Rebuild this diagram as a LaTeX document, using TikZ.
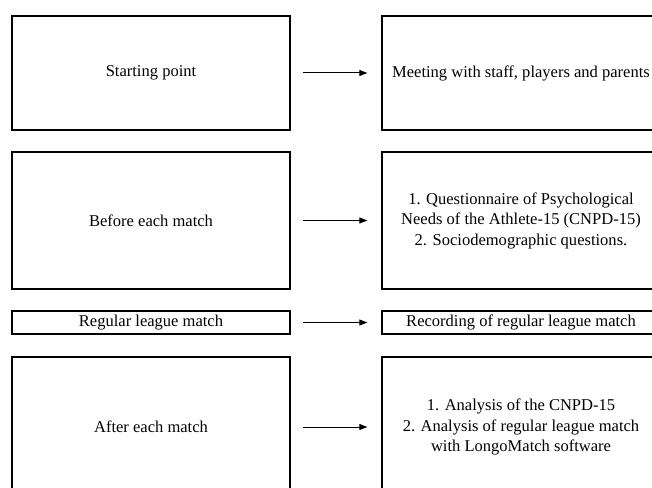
\documentclass[tikz,border=0pt]{standalone}
\usepackage{fontspec}
\setmainfont{Liberation Serif}
\usetikzlibrary{positioning, arrows.meta}

\begin{document}
\begin{tikzpicture}[
    x=0.75pt, y=-0.75pt,
    block/.style={draw, line width=1pt, minimum width=208.5pt, inner sep=2pt, align=center, font=\fontsize{12.4}{15.4}\selectfont},
    arrow/.style={-{Triangle[length=6pt,width=4.5pt]}, line width=0.75pt, shorten <=9pt, shorten >=10.5pt}
]
\useasboundingbox (0,0) rectangle (652,488);
\clip (0,0) rectangle (652,488);

% left column
\node[block, minimum height=85.5pt] (start) at (151,73) {Starting point};
\node[block, minimum height=102.75pt, below=15.5pt of start] (before) {Before each match};
\node[block, minimum height=17.25pt, inner sep=0pt, below=15.5pt of before] (league) {Regular league match};
\node[block, minimum height=105pt, below=16.25pt of league] (after) {After each match};

% right column
\node[block, minimum height=85.5pt, right=68pt of start] (meeting) {Meeting with staff, players and parents};
\node[block, minimum height=102.75pt, right=68pt of before] (questions) {1. Questionnaire of Psychological\\Needs of the Athlete-15 (CNPD-15)\\2. Sociodemographic questions.};
\node[block, minimum height=17.25pt, inner sep=0pt, right=68pt of league] (recording) {Recording of regular league match};
\node[block, minimum height=105pt, right=68pt of after] (analysis) {1. Analysis of the CNPD-15\\2. Analysis of regular league match\\with LongoMatch software};

\draw[arrow] (start) -- (meeting);
\draw[arrow] (before) -- (questions);
\draw[arrow] (league) -- (recording);
\draw[arrow] (after) -- (analysis);

\end{tikzpicture}
\end{document}
